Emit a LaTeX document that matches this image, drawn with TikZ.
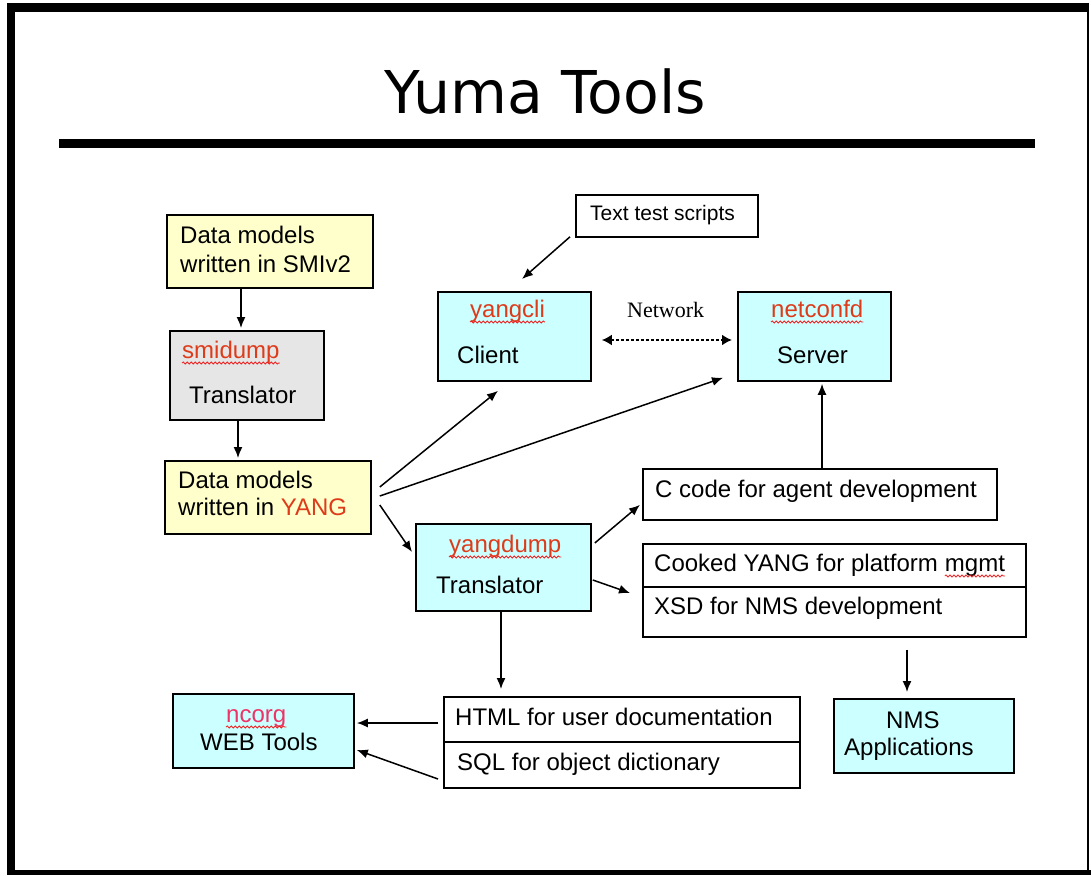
\documentclass[tikz,border=0pt]{standalone}
\usepackage{fontspec}
\setmainfont{Liberation Sans}
\newfontfamily\serifont{Liberation Serif}
\newfontfamily\titlefont[FakeStretch=0.99]{DejaVu Sans}
\usetikzlibrary{arrows.meta,calc,decorations.pathmorphing}
\definecolor{yel}{HTML}{FFFFCC}
\definecolor{gry}{HTML}{E6E6E6}
\definecolor{cyn}{HTML}{CCFFFF}
\definecolor{rd}{HTML}{DD3B1A}
\definecolor{pk}{HTML}{EE3366}
\definecolor{sq}{HTML}{EE2222}
\tikzset{
  box/.style={draw, line width=1.8pt, inner sep=0pt, anchor=north west},
  txt/.style={inner sep=0pt, anchor=base west, font=\fontsize{24}{29}\selectfont},
  arr/.style={line width=1.5pt, -{Latex[length=11pt,width=9pt]}},
  wavy/.style={sq, line width=0.8pt, decorate, decoration={snake, amplitude=1.1pt, segment length=4pt}},
}
\newcommand{\squigunder}[1]{\draw[wavy] ([yshift=-5pt]#1.base west) -- ([yshift=-5pt]#1.base east);}
\begin{document}
\begin{tikzpicture}[x=1pt,y=-1pt]
\useasboundingbox (0,0) rectangle (1091,875);
% frame
\fill[black] (7,3) rectangle (1089,12);
\fill[black] (7,3) rectangle (15,875);
\fill[black] (7,870) rectangle (1091,875);
\draw[line width=2pt] (1088,3) -- (1088,875);
% title
\node[inner sep=0pt, anchor=base, font=\titlefont\fontsize{59}{60}\selectfont] (title) at (545,113) {Yuma Tools};
\fill[black] (59,139) rectangle (1035,148);

% boxes
\node[box, fill=yel, minimum width=206, minimum height=73] (smi) at (166,214) {};
\node[box, fill=gry, minimum width=154, minimum height=89] (smid) at (169,330) {};
\node[box, fill=yel, minimum width=206, minimum height=73] (yang) at (164,460) {};
\node[box, fill=white, minimum width=182, minimum height=42] (tts) at (575,194) {};
\node[box, fill=cyn, minimum width=153, minimum height=89] (cli) at (437,291) {};
\node[box, fill=cyn, minimum width=153, minimum height=89] (srv) at (737,291) {};
\node[box, fill=cyn, minimum width=175, minimum height=87] (dump) at (415,523) {};
\node[box, fill=white, minimum width=354, minimum height=51] (ccode) at (642,468) {};
\node[box, fill=white, minimum width=383, minimum height=43] (cooked) at (642,543) {};
\node[box, fill=white, minimum width=383, minimum height=50] (xsd) at (642,586) {};
\node[box, fill=white, minimum width=356, minimum height=45] (html) at (443,696) {};
\node[box, fill=white, minimum width=356, minimum height=46] (sql) at (443,741) {};
\node[box, fill=cyn, minimum width=181, minimum height=74] (ncorg) at (172,693) {};
\node[box, fill=cyn, minimum width=180, minimum height=74] (nms) at (833,698) {};

% texts
\node[txt] (smiA) at (180,243) {Data models};
\node[txt] (smiB) at (180,272) {written in SMIv2};
\node[txt, text=rd] (smidA) at (182,358) {smidump};
\node[txt] (smidB) at (189,403) {Translator};
\node[txt] (yangA) at (178,488) {Data models};
\node[txt] (yangB) at (178,515) {written in \textcolor{rd}{YANG}};
\node[txt, font=\fontsize{21}{25}\selectfont] (ttsA) at (590,220) {Text test scripts};
\node[txt, text=rd] (cliA) at (470,317) {yangcli};
\node[txt] (cliB) at (457,363) {Client};
\node[txt, text=rd] (srvA) at (771,317) {netconfd};
\node[txt] (srvB) at (777,363) {Server};
\node[txt, font=\serifont\fontsize{22}{26}\selectfont] (net) at (627,317) {Network};
\node[txt] (ccodeA) at (655,497) {C code for agent development};
\node[txt] (ck1) at (654,571) {Cooked YANG for platform};
\node[txt] (ck2) at ([xshift=6.7pt]ck1.base east) {mgmt};
\node[txt] (xsdA) at (654,614) {XSD for NMS development};
\node[txt, text=rd] (dumpA) at (449,552) {yangdump};
\node[txt] (dumpB) at (436,593) {Translator};
\node[txt] (htmlA) at (455,725) {HTML for user documentation};
\node[txt] (sqlA) at (457,770) {SQL for object dictionary};
\node[txt, text=pk] (ncA) at (226,722) {ncorg};
\node[txt] (ncB) at (200,750) {WEB Tools};
\node[txt] (nmsA) at (886,728) {NMS};
\node[txt] (nmsB) at (844,755) {Applications};

% squiggles
\squigunder{smidA}
\squigunder{cliA}
\squigunder{srvA}
\squigunder{dumpA}
\squigunder{ncA}
\squigunder{ck2}

% connectors
\draw[arr] ($(smi.south west)+(75,0)$) -- ($(smid.north west)+(72,-2)$);
\draw[arr] ($(smid.south west)+(69,0)$) -- ($(yang.north west)+(74,-2)$);
\draw[arr] ($(tts.south west)+(-5,-1)$) -- ($(cli.north west)+(85,-12)$);
\draw[arr] ($(yang.north east)+(8,27)$) -- ($(cli.south west)+(61,9)$);
\draw[arr] ($(yang.north east)+(8,36)$) -- ($(srv.south west)+(-14,-4)$);
\draw[arr] ($(yang.north east)+(8,45)$) -- ($(dump.north west)+(-3,29)$);
\draw[arr] ($(dump.north east)+(3,20)$) -- ($(ccode.south west)+(-2,-16)$);
\draw[arr] ($(dump.north east)+(1,57)$) -- ($(xsd.north west)+(-12,7)$);
\draw[arr] ($(ccode.north west)+(180,0)$) -- ($(srv.south west)+(85,2)$);
\draw[arr] ($(dump.south west)+(86,0)$) -- ($(html.north west)+(58,-7)$);
\draw[arr] ($(xsd.south west)+(265,12)$) -- ($(nms.north west)+(74,-6)$);
\draw[arr] ($(html.north west)+(-5,27)$) -- ($(ncorg.north east)+(2,30)$);
\draw[arr] ($(sql.north west)+(-5,38)$) -- ($(ncorg.north east)+(2,57)$);
\draw[line width=2.8pt, dash pattern=on 2.8pt off 2.2pt, {Latex[length=10pt,width=11pt]}-{Latex[length=10pt,width=11pt]}] ($(cli.north east)+(10,49)$) -- ($(srv.north west)+(-5,49)$);
\end{tikzpicture}
\end{document}
